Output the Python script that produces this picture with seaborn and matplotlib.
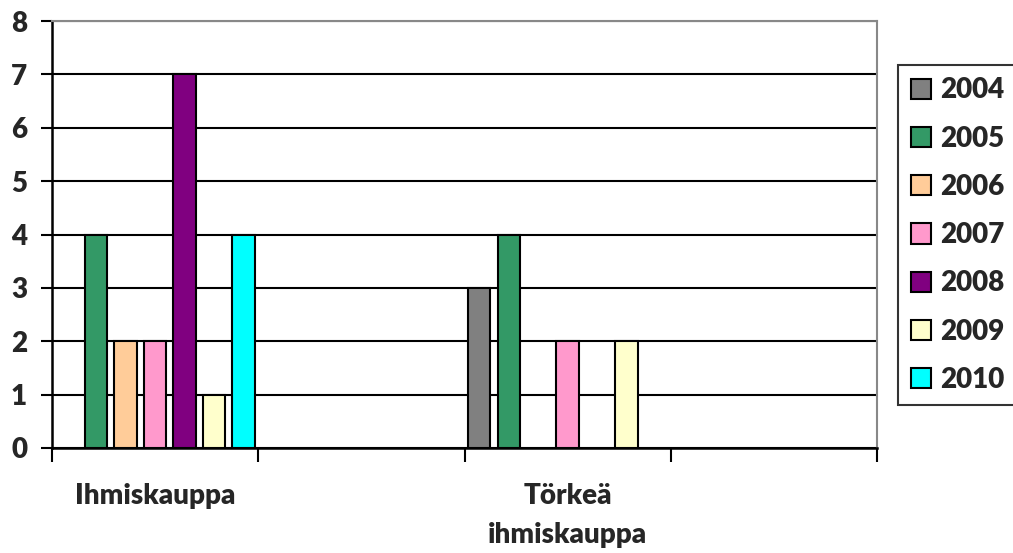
import matplotlib
matplotlib.use("Agg")
import matplotlib.pyplot as plt
import seaborn as sns
import pandas as pd
from matplotlib.ticker import FixedLocator, MultipleLocator

# Offences by category, one list per year
categories = ["Ihmiskauppa", "_blank1", "Törkeä\nihmiskauppa", "_blank2"]
tick_labels = ["Ihmiskauppa", "", "Törkeä\nihmiskauppa", ""]
years = ["2004", "2005", "2006", "2007", "2008", "2009", "2010"]
values = {
    "2004": [0, 0, 3, 0],
    "2005": [4, 0, 4, 0],
    "2006": [2, 0, 0, 0],
    "2007": [2, 0, 2, 0],
    "2008": [7, 0, 0, 0],
    "2009": [1, 0, 2, 0],
    "2010": [4, 0, 0, 0],
}
colors = ["#808080", "#339966", "#FFCC99", "#FF99CC", "#800080", "#FFFFCC", "#00FFFF"]

rows = []
for y in years:
    for c, v in zip(categories, values[y]):
        if v:
            rows.append({"category": c, "year": y, "count": v})
df = pd.DataFrame(rows)

sns.set_theme(style="white")
plt.rcParams["font.family"] = ["Lato", "DejaVu Sans"]
plt.rcParams["font.weight"] = "heavy"

FS = 20
FW = "heavy"

fig = plt.figure(figsize=(10.13, 5.53), dpi=100)
ax = fig.add_axes([52 / 1013, 1 - 448 / 553, (877 - 52) / 1013, (448 - 21) / 553])

sns.barplot(data=df, x="category", y="count", hue="year", order=categories,
            hue_order=years, palette=colors, dodge=True, width=1.0, gap=0.24,
            edgecolor="black", linewidth=1.5, saturation=1, errorbar=None, ax=ax,
            zorder=3)

ax.set_xlim(-0.5, len(categories) - 0.5)
ax.set_ylim(0, 8)
ax.set_xlabel("")
ax.set_ylabel("")

# Gridlines
ax.yaxis.set_major_locator(MultipleLocator(1))
ax.grid(axis="y", color="black", linewidth=1.5, zorder=0)
ax.grid(axis="x", visible=False)
ax.set_axisbelow(True)

# Spines
for side in ["left", "bottom"]:
    ax.spines[side].set_color("black")
    ax.spines[side].set_linewidth(1.8)
for side in ["top", "right"]:
    ax.spines[side].set_color("#888888")
    ax.spines[side].set_linewidth(1.5)

# Y ticks
ax.tick_params(axis="y", which="major", direction="out", length=8, width=1.5,
               color="black", left=True, labelsize=FS, pad=10)
for lab in ax.get_yticklabels():
    lab.set_fontweight(FW)

# Category axis: ticks on boundaries, labels in the middle
ax.xaxis.set_major_locator(FixedLocator([i - 0.5 for i in range(len(categories) + 1)]))
ax.xaxis.set_minor_locator(FixedLocator(list(range(len(categories)))))
ax.set_xticklabels([""] * (len(categories) + 1))
ax.set_xticklabels(tick_labels, minor=True, fontsize=FS, fontweight=FW,
                   linespacing=1.65, va="top")
ax.tick_params(axis="x", which="major", direction="out", length=10, width=1.5,
               color="black", bottom=True)
ax.tick_params(axis="x", which="minor", length=0, pad=25)

# Legend
handles, labels = ax.get_legend_handles_labels()
leg = ax.legend(handles, labels, loc="upper left", bbox_to_anchor=(898 / 1013, 1 - 65 / 553),
                bbox_transform=fig.transFigure, frameon=True, fancybox=False,
                edgecolor="black", prop={"weight": FW, "size": FS},
                handlelength=0.75, handleheight=0.75, handletextpad=0.3,
                labelspacing=0.8, borderpad=0.45, borderaxespad=0)
leg.get_frame().set_linewidth(1.5)
for h in leg.legend_handles:
    h.set_edgecolor("black")
    h.set_linewidth(1.5)

fig.savefig("out.png", dpi=100)
